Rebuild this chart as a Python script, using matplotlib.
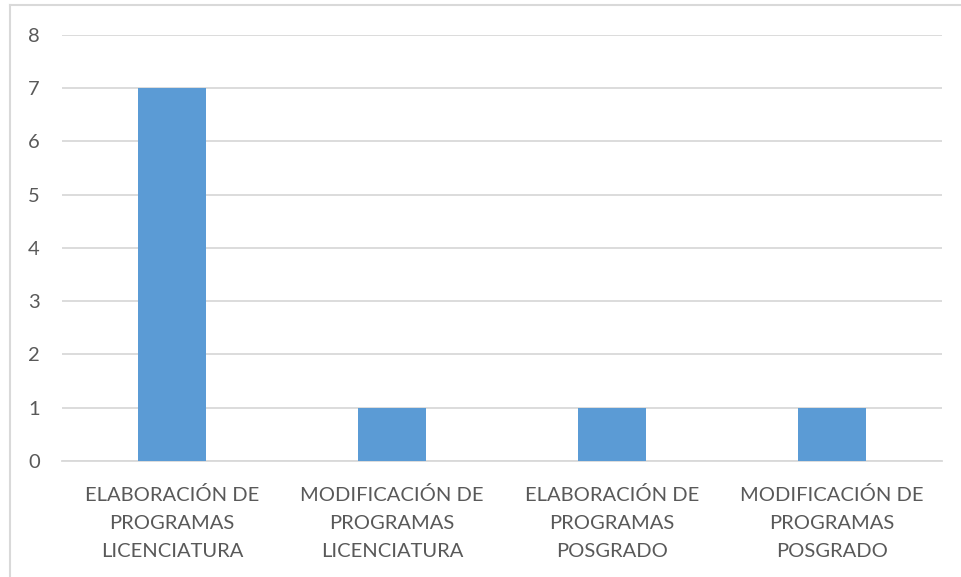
import matplotlib
matplotlib.use('Agg')
import matplotlib.pyplot as plt
from matplotlib.lines import Line2D

categories = ['ELABORACIÓN DE\nPROGRAMAS\nLICENCIATURA',
              'MODIFICACIÓN DE\nPROGRAMAS\nLICENCIATURA',
              'ELABORACIÓN DE\nPROGRAMAS\nPOSGRADO',
              'MODIFICACIÓN DE\nPROGRAMAS\nPOSGRADO']
values = [7, 1, 1, 1]
y_ticks = [0, 1, 2, 3, 4, 5, 6, 7, 8]

plt.rcParams['font.family'] = ['Lato', 'DejaVu Sans']

fig = plt.figure(figsize=(9.61, 5.77), dpi=100)
ax = fig.add_axes([0.0645, 0.201, 0.9157, 0.7388])

x = list(range(len(categories)))
ax.bar(x, values, width=0.31, color='#5B9BD5', zorder=3)

ax.set_xlim(-0.5, 3.5)
ax.set_ylim(0, 8)
ax.set_yticks(y_ticks)
ax.set_xticks(x)
ax.set_xticklabels(categories, linespacing=1.8)
ax.yaxis.grid(True, color='#d9d9d9', linewidth=1.3, zorder=0)
for s in ax.spines.values():
    s.set_visible(False)
ax.spines['bottom'].set_visible(True)
ax.spines['bottom'].set_color('#d9d9d9')
ax.spines['bottom'].set_linewidth(1.3)
ax.tick_params(axis='both', length=0, labelsize=14.5, colors='#595959')
ax.tick_params(axis='y', pad=16)
ax.tick_params(axis='x', pad=18)

# outer frame (left and top only visible)
fig.add_artist(Line2D([10/961, 10/961], [0, 1 - 5/577], transform=fig.transFigure, color='#d9d9d9', linewidth=1.5))
fig.add_artist(Line2D([10/961, 1], [1 - 5/577, 1 - 5/577], transform=fig.transFigure, color='#d9d9d9', linewidth=1.5))

fig.savefig('out.png', dpi=100)
